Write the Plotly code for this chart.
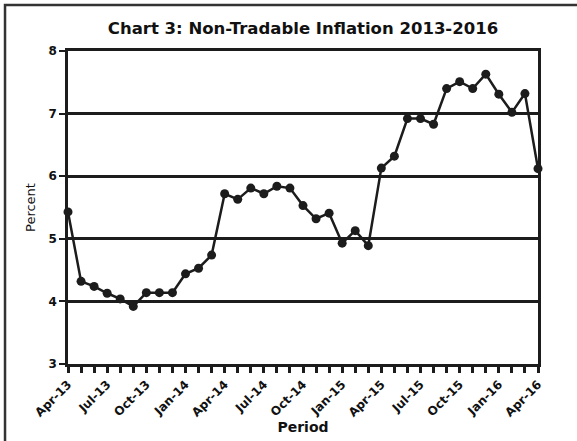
import plotly.graph_objects as go

# monthly periods Apr-13 .. Apr-16
periods = [
    "Apr-13", "May-13", "Jun-13", "Jul-13", "Aug-13", "Sep-13", "Oct-13", "Nov-13", "Dec-13",
    "Jan-14", "Feb-14", "Mar-14", "Apr-14", "May-14", "Jun-14", "Jul-14", "Aug-14", "Sep-14",
    "Oct-14", "Nov-14", "Dec-14", "Jan-15", "Feb-15", "Mar-15", "Apr-15", "May-15", "Jun-15",
    "Jul-15", "Aug-15", "Sep-15", "Oct-15", "Nov-15", "Dec-15", "Jan-16", "Feb-16", "Mar-16",
    "Apr-16",
]
inflation = [
    5.43, 4.32, 4.24, 4.13, 4.04, 3.92, 4.14, 4.14, 4.14,
    4.44, 4.53, 4.74, 5.72, 5.63, 5.81, 5.72, 5.84, 5.81,
    5.53, 5.32, 5.41, 4.93, 5.13, 4.89, 6.13, 6.32, 6.92,
    6.92, 6.83, 7.40, 7.51, 7.40, 7.63, 7.31, 7.02, 7.32,
    6.12,
]
label_months = ["Apr-13", "Jul-13", "Oct-13", "Jan-14", "Apr-14", "Jul-14", "Oct-14",
                "Jan-15", "Apr-15", "Jul-15", "Oct-15", "Jan-16", "Apr-16"]

FONT = "DejaVu Sans, sans-serif"
INK = "#1c1c1c"

fig = go.Figure(
    go.Scatter(
        x=periods, y=inflation, mode="lines+markers",
        line=dict(color=INK, width=2.5),
        marker=dict(color=INK, size=9),
        cliponaxis=False, showlegend=False,
    )
)

fig.update_layout(
    width=577, height=441,
    paper_bgcolor="white", plot_bgcolor="white",
    margin=dict(l=68, r=39, t=51, b=77),
    title=dict(
        text="<b>Chart 3: Non-Tradable Inflation 2013-2016</b>",
        font=dict(family=FONT, size=16.5, color="#111"),
        x=(68 + 470 / 2) / 577, xanchor="center", y=0.937, yanchor="middle",
    ),
    font=dict(family=FONT, color="#111"),
    shapes=[
        # outer frame (left and top edges visible)
        dict(type="rect", xref="paper", yref="paper",
             x0=-0.134, x1=1.3, y0=-0.5, y1=1.147,
             line=dict(color="#333", width=2.5), layer="below"),
    ],
)

fig.update_xaxes(
    type="category",
    range=[0, 36],
    automargin=False,
    tickmode="array",
    tickvals=periods,
    ticktext=[f"<b>{p}</b>" if p in label_months else "" for p in periods],
    tickangle=-45,
    tickfont=dict(size=12, family=FONT, color="#111"),
    ticks="outside", ticklen=6, tickwidth=2.5, tickcolor=INK,
    showline=True, linecolor=INK, linewidth=2.5, mirror=True,
    showgrid=False,
    title=dict(text="<b>Period</b>", font=dict(size=14, family=FONT), standoff=4),
)
fig.update_yaxes(
    range=[3, 8],
    automargin=False,
    tickvals=[3, 4, 5, 6, 7, 8],
    ticktext=[f"<b>{v}</b>" for v in [3, 4, 5, 6, 7, 8]],
    tickfont=dict(size=12, family=FONT, color="#111"),
    ticks="outside", ticklen=6, tickwidth=2, tickcolor=INK,
    showline=True, linecolor=INK, linewidth=2.5, mirror=True,
    showgrid=True, gridcolor=INK, gridwidth=2.5,
    zeroline=False,
    title=dict(text="Percent", font=dict(size=13, family=FONT), standoff=10),
)

fig.write_html(
    "out.html",
    config={"displayModeBar": False},
    post_script="document.body.style.margin='0';",
)
